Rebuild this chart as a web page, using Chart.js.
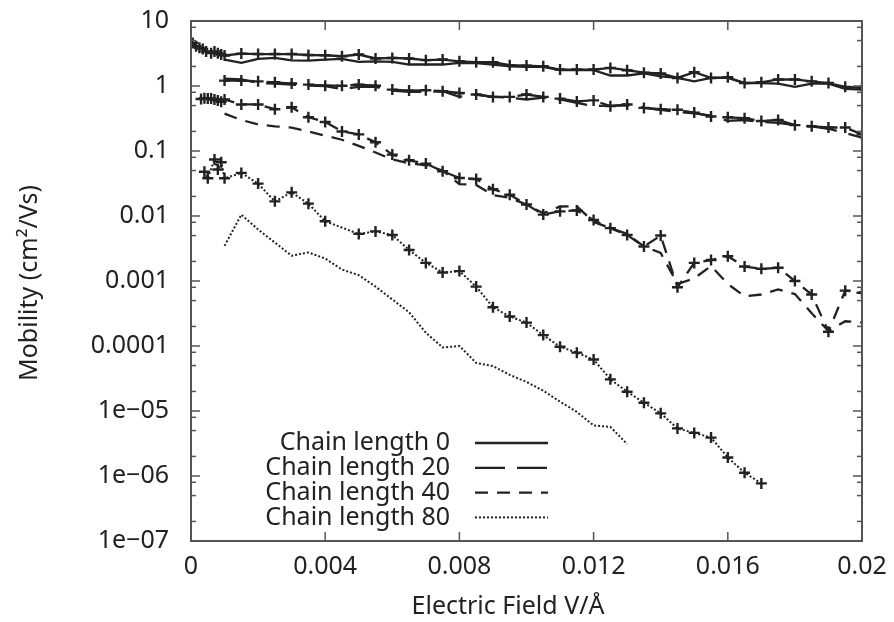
<!DOCTYPE html>
<html>
<head>
<meta charset="utf-8">
<title>Mobility vs electric field</title>
<script src="https://cdn.jsdelivr.net/npm/chart.js@4.4.1/dist/chart.umd.min.js"></script>
<style>
  html, body { margin: 0; padding: 0; background: #fff; }
  #wrap { width: 894px; height: 622px; }
</style>
</head>
<body>
<div id="wrap"><canvas id="mobility" width="894" height="622"></canvas></div>
<script>
const FONT = '"Noto Sans", "Open Sans", sans-serif';
const INK = '#222';
const FONT_SIZE = 25;

const seriesNames = ['Chain length 0', 'Chain length 20', 'Chain length 40', 'Chain length 80'];

// x ticks (V/Å) and log y ticks
const xTickValues = [0, 0.004, 0.008, 0.012, 0.016, 0.02];
const xTickLabels = ['0', '0.004', '0.008', '0.012', '0.016', '0.02'];
const yTickValues = [1e-7, 1e-6, 1e-5, 1e-4, 1e-3, 1e-2, 1e-1, 1, 10];
const yTickLabels = ['1e\u221207', '1e\u221206', '1e\u221205', '0.0001', '0.001', '0.01', '0.1', '1', '10'];

// common field grid, 0.001 .. 0.02
const fieldGrid = [0.001, 0.0015, 0.002, 0.0025, 0.003, 0.0035, 0.004, 0.0045, 0.005, 0.0055,
  0.006, 0.0065, 0.007, 0.0075, 0.008, 0.0085, 0.009, 0.0095, 0.01, 0.0105,
  0.011, 0.0115, 0.012, 0.0125, 0.013, 0.0135, 0.014, 0.0145, 0.015, 0.0155,
  0.016, 0.0165, 0.017, 0.0175, 0.018, 0.0185, 0.019, 0.0195, 0.02];

// chain length 0
const chain0LowX = [0.00005, 0.00015, 0.00025, 0.00035, 0.00045, 0.0006, 0.0007, 0.0008, 0.0009];
const chain0LowMarked = [4.6, 4.1, 3.86, 3.72, 3.4, 3.2, 3.4, 3.2, 3.05];
const chain0Marked = [2.95, 3.15, 3.1, 3.1, 3.1, 3.0, 2.97, 2.87, 3.05, 2.65,
  2.7, 2.65, 2.5, 2.55, 2.4, 2.32, 2.32, 2.09, 2.06, 2.01,
  1.79, 1.79, 1.79, 1.9, 1.75, 1.6, 1.56, 1.33, 1.63, 1.33,
  1.36, 1.11, 1.14, 1.26, 1.26, 1.18, 1.11, 0.97, 0.94];
const chain0Plain = [2.55, 2.27, 2.62, 2.7, 2.48, 2.46, 2.55, 2.62, 2.35, 2.4,
  2.35, 2.14, 2.14, 2.14, 2.27, 2.25, 2.14, 2.01, 1.97, 1.97,
  1.75, 1.75, 1.75, 1.45, 1.45, 1.56, 1.41, 1.33, 1.18, 1.33,
  1.33, 1.11, 1.11, 1.09, 0.97, 1.09, 1.09, 0.9, 0.88];

// chain length 20
const chain20Marked = [1.21, 1.21, 1.18, 1.14, 1.09, 1.05, 1.01, 1.01, 1.05, 1.01,
  0.88, 0.85, 0.86, 0.83, 0.78, 0.74, 0.68, 0.68, 0.74, 0.68,
  0.64, 0.58, 0.6, 0.49, 0.52, 0.46, 0.44, 0.43, 0.39, 0.34,
  0.33, 0.32, 0.29, 0.3, 0.25, 0.24, 0.23, 0.23, 0.18];
const chain20Plain = [1.3, 1.26, 1.11, 1.09, 1.05, 1.01, 1.0, 0.9, 0.97, 0.97,
  0.85, 0.81, 0.81, 0.83, 0.68, 0.74, 0.68, 0.66, 0.62, 0.66,
  0.62, 0.55, 0.49, 0.5, 0.5, 0.46, 0.43, 0.4, 0.38, 0.35,
  0.29, 0.3, 0.28, 0.27, 0.25, 0.24, 0.22, 0.19, 0.16];

// chain length 40
const chain40LowX = [0.0003, 0.0004, 0.0005, 0.0006, 0.0007, 0.0008, 0.0009];
const chain40LowMarked = [0.63, 0.65, 0.64, 0.64, 0.62, 0.6, 0.57];
const chain40Marked = [0.62, 0.52, 0.52, 0.44, 0.47, 0.33, 0.28, 0.2, 0.18, 0.136,
  0.088, 0.072, 0.064, 0.0487, 0.0385, 0.037, 0.0258, 0.0212, 0.015, 0.0105,
  0.0118, 0.0122, 0.0087, 0.0065, 0.0051, 0.0034, 0.005, 0.0008, 0.0019, 0.0021,
  0.0024, 0.00167, 0.00154, 0.0016, 0.001, 0.00062, 0.000166, 0.00071, 0.00066];
const chain40Plain = [0.376, 0.3, 0.257, 0.24, 0.229, 0.2, 0.172, 0.149, 0.12, 0.095,
  0.074, 0.065, 0.06, 0.05, 0.031, 0.03, 0.021, 0.019, 0.015, 0.011,
  0.014, 0.0141, 0.0081, 0.0065, 0.0053, 0.0034, 0.0027, 0.0009, 0.0011, 0.0017,
  0.0009, 0.00058, 0.00062, 0.00074, 0.00063, 0.00032, 0.00017, 0.00024, 0.00023];

// chain length 80
const chain80MarkedX = [0.0004, 0.0005, 0.0007, 0.0008, 0.0009, 0.001, 0.0015, 0.002, 0.0025, 0.003,
  0.0035, 0.004, 0.005, 0.0055, 0.006, 0.0065, 0.007, 0.0075, 0.008, 0.0085,
  0.009, 0.0095, 0.01, 0.0105, 0.011, 0.0115, 0.012, 0.0125, 0.013, 0.0135,
  0.014, 0.0145, 0.015, 0.0155, 0.016, 0.0165, 0.017];
const chain80Marked = [0.048, 0.038, 0.074, 0.052, 0.067, 0.038, 0.046, 0.0315, 0.0168, 0.0231,
  0.0155, 0.0083, 0.0053, 0.0058, 0.0051, 0.003, 0.0019, 0.00135, 0.00142, 0.00082,
  0.000395, 0.000285, 0.000229, 0.000147, 0.0000975, 0.000079, 0.000062, 0.0000307, 0.0000198, 0.0000134,
  0.0000092, 0.0000054, 0.0000046, 0.0000039, 0.00000193, 0.00000112, 0.00000077];
const chain80PlainX = fieldGrid.slice(0, 25);
const chain80Plain = [0.00347, 0.0105, 0.0062, 0.0039, 0.00245, 0.00275, 0.00222, 0.0015, 0.00123, 0.00082,
  0.00052, 0.00033, 0.00016, 0.000095, 0.0001, 0.000055, 0.000049, 0.000036, 0.000028, 0.0000205,
  0.0000139, 0.0000097, 0.000006, 0.0000057, 0.0000031];

// dash patterns per chain length
const dashes = [[], [30, 12], [13, 9], [2, 2]];

function pts(xs, ys) {
  return xs.map((x, i) => ({ x: x, y: ys[i] }));
}

function lineSet(label, data, k, marked) {
  return {
    label: label,
    data: data,
    showLine: true,
    fill: false,
    tension: 0,
    borderColor: INK,
    backgroundColor: INK,
    borderWidth: k === 3 ? 2 : 2.3,
    borderDash: dashes[k],
    pointStyle: 'cross',
    pointRadius: marked ? 5.5 : 0,
    pointHoverRadius: 0,
    pointBorderWidth: 2.4,
    pointBorderColor: INK
  };
}

const datasets = [
  lineSet(seriesNames[0], pts(chain0LowX.concat(fieldGrid), chain0LowMarked.concat(chain0Marked)), 0, true),
  lineSet(seriesNames[0], pts(fieldGrid, chain0Plain), 0, false),
  lineSet(seriesNames[1], pts(fieldGrid, chain20Marked), 1, true),
  lineSet(seriesNames[1], pts(fieldGrid, chain20Plain), 1, false),
  lineSet(seriesNames[2], pts(chain40LowX.concat(fieldGrid), chain40LowMarked.concat(chain40Marked)), 2, true),
  lineSet(seriesNames[2], pts(fieldGrid, chain40Plain), 2, false),
  lineSet(seriesNames[3], pts(chain80MarkedX, chain80Marked), 3, true),
  lineSet(seriesNames[3], pts(chain80PlainX, chain80Plain), 3, false)
];

// box, inward ticks, key and axis titles
const framePlugin = {
  id: 'frame',
  afterDraw(chart) {
    const ctx = chart.ctx;
    const a = chart.chartArea;
    const x = chart.scales.x, y = chart.scales.y;
    const seg = (x1, y1, x2, y2) => { ctx.beginPath(); ctx.moveTo(x1, y1); ctx.lineTo(x2, y2); ctx.stroke(); };
    ctx.save();
    ctx.strokeStyle = '#555';
    ctx.lineWidth = 2;
    ctx.strokeRect(a.left, a.top, a.right - a.left, a.bottom - a.top);
    ctx.lineWidth = 1.5;
    xTickValues.forEach(v => {
      const px = x.getPixelForValue(v);
      seg(px, a.bottom, px, a.bottom - 9);
      seg(px, a.top, px, a.top + 9);
    });
    yTickValues.forEach((v, i) => {
      const py = y.getPixelForValue(v);
      seg(a.left, py, a.left + 9, py);
      seg(a.right, py, a.right - 9, py);
      if (i < yTickValues.length - 1) {
        [2, 5, 8].forEach(m => {
          const q = y.getPixelForValue(v * m);
          seg(a.left, q, a.left + 5, q);
          seg(a.right, q, a.right - 5, q);
        });
      }
    });

    // key
    ctx.fillStyle = INK;
    ctx.font = FONT_SIZE + 'px ' + FONT;
    ctx.textAlign = 'right';
    ctx.textBaseline = 'middle';
    ctx.strokeStyle = INK;
    seriesNames.forEach((name, k) => {
      const ky = 443 + k * 24.8;
      ctx.fillText(name, 450, ky);
      ctx.lineWidth = k === 3 ? 2 : 2.3;
      ctx.setLineDash(dashes[k]);
      seg(475, ky, 548, ky);
    });
    ctx.setLineDash([]);

    // axis titles
    ctx.textAlign = 'center';
    ctx.fillText('Electric Field V/\u00C5', 508, 607);
    ctx.translate(30, 283);
    ctx.rotate(-Math.PI / 2);
    ctx.fillText('Mobility (cm\u00B2/Vs)', 0, 0);
    ctx.restore();
  }
};

new Chart(document.getElementById('mobility'), {
  type: 'scatter',
  data: { datasets: datasets },
  options: {
    responsive: false,
    animation: false,
    layout: { padding: { top: 21, right: 32, left: 0, bottom: 0 } },
    plugins: {
      legend: { display: false },
      tooltip: { enabled: false }
    },
    scales: {
      x: {
        type: 'linear',
        min: 0,
        max: 0.02,
        grid: { display: false, drawTicks: false },
        border: { display: false },
        afterBuildTicks: axis => { axis.ticks = xTickValues.map(v => ({ value: v })); },
        afterFit: axis => {
          axis.height = 81;
          axis.paddingLeft = 0;
          axis.paddingRight = 0;
        },
        ticks: {
          autoSkip: false,
          maxRotation: 0,
          padding: 11,
          color: INK,
          font: { family: FONT, size: FONT_SIZE },
          callback: v => xTickLabels[xTickValues.indexOf(v)]
        }
      },
      y: {
        type: 'logarithmic',
        min: 1e-7,
        max: 10,
        grid: { display: false, drawTicks: false },
        border: { display: false },
        afterBuildTicks: axis => { axis.ticks = yTickValues.map(v => ({ value: v })); },
        afterFit: axis => {
          axis.width = 191;
          axis.paddingTop = 0;
          axis.paddingBottom = 0;
        },
        ticks: {
          autoSkip: false,
          padding: 22,
          color: INK,
          font: { family: FONT, size: FONT_SIZE },
          callback: v => {
            const i = yTickValues.findIndex(t => Math.abs(Math.log10(t) - Math.log10(v)) < 1e-6);
            return i >= 0 ? yTickLabels[i] : '';
          }
        }
      }
    }
  },
  plugins: [framePlugin]
});
</script>
</body>
</html>
